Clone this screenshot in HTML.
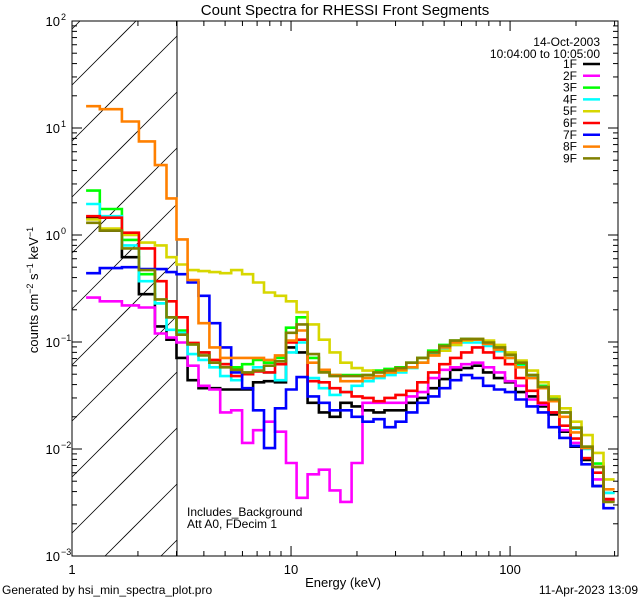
<!DOCTYPE html>
<html><head><meta charset="utf-8"><style>
html,body{margin:0;padding:0;background:#fff;overflow:hidden;width:640px;height:600px;}
svg{display:block;font-family:"Liberation Sans",sans-serif;}
</style></head><body>
<svg id="chart" width="640" height="600" viewBox="0 0 640 600" xmlns="http://www.w3.org/2000/svg">
<defs><clipPath id="plotclip"><rect x="72" y="21" width="546" height="535"/></clipPath></defs>
<text x="345" y="15" font-size="15" text-anchor="middle">Count Spectra for RHESSI Front Segments</text>
<g id="hatch"></g>
<g id="series" clip-path="url(#plotclip)"></g>
<g id="axes"></g>
<text transform="translate(38,290) rotate(-90)" font-size="13" text-anchor="middle">counts cm<tspan dy="-5" font-size="9">−2</tspan><tspan dy="5"> s</tspan><tspan dy="-5" font-size="9">−1</tspan><tspan dy="5"> keV</tspan><tspan dy="-5" font-size="9">−1</tspan></text>
<text x="343" y="587" font-size="13" text-anchor="middle">Energy (keV)</text>
<text x="600" y="46" font-size="12" text-anchor="end">14-Oct-2003</text>
<text x="600" y="58" font-size="12" text-anchor="end">10:04:00 to 10:05:00</text>
<g id="legend"></g>
<text x="187" y="516" font-size="12">Includes_Background</text>
<text x="187" y="528" font-size="12">Att A0, FDecim 1</text>
<text x="2" y="594" font-size="12">Generated by hsi_min_spectra_plot.pro</text>
<text x="638" y="594" font-size="12" text-anchor="end">11-Apr-2023 13:09</text>
</svg>
<script>
const energyEdges=[1.16,1.34,1.69,2.02,2.39,2.7,3.00,3.37,3.78,4.24,4.75,5.33,5.98,6.71,7.53,8.45,9.48,10.6,11.9,13.4,15.0,16.8,18.9,21.2,23.8,26.7,30.0,33.6,37.7,42.3,47.5,53.3,59.8,67.1,75.3,84.5,94.8,106,119,134,150,168,189,212,238,267,300];
const seriesNames=["1F","2F","3F","4F","5F","6F","7F","8F","9F"];
const seriesColors=["#000000","#ff00ff","#00ff00","#00ffff","#d7d700","#ff0000","#0000ff","#ff8000","#808000"];
const v1F=[1.45,1.1,0.62,0.28,0.14,0.105,0.071,0.044,0.037,0.037,0.036,0.036,0.036,0.042,0.043,0.042,0.089,0.080,0.027,0.022,0.020,0.027,0.025,0.023,0.022,0.023,0.023,0.027,0.030,0.037,0.045,0.055,0.057,0.060,0.052,0.046,0.042,0.034,0.031,0.025,0.021,0.0145,0.0105,0.0079,0.0045,0.0033];
const v2F=[0.26,0.24,0.22,0.21,0.12,0.11,0.099,0.060,0.039,0.036,0.022,0.023,0.0114,0.015,0.018,0.0145,0.0074,0.0035,0.0058,0.0064,0.0041,0.0032,0.0074,0.027,0.027,0.027,0.027,0.031,0.034,0.046,0.055,0.058,0.062,0.064,0.058,0.052,0.043,0.039,0.029,0.026,0.022,0.015,0.0114,0.0082,0.0052,0.0033];
const v3F=[2.6,1.75,0.9,0.43,0.23,0.17,0.128,0.095,0.080,0.064,0.062,0.058,0.062,0.068,0.064,0.071,0.136,0.17,0.071,0.054,0.049,0.049,0.049,0.049,0.054,0.056,0.058,0.064,0.071,0.083,0.094,0.103,0.107,0.105,0.099,0.089,0.076,0.062,0.049,0.039,0.030,0.022,0.0158,0.0105,0.0073,0.0039];
const v4F=[1.95,1.5,0.8,0.37,0.23,0.13,0.122,0.077,0.068,0.058,0.048,0.044,0.052,0.058,0.052,0.044,0.080,0.099,0.046,0.037,0.032,0.034,0.039,0.043,0.046,0.049,0.052,0.057,0.064,0.077,0.087,0.094,0.099,0.099,0.092,0.082,0.071,0.059,0.047,0.038,0.029,0.022,0.0155,0.0100,0.0068,0.0039];
const v5F=[1.4,1.15,1.0,0.85,0.8,0.62,0.53,0.47,0.46,0.45,0.44,0.47,0.43,0.36,0.29,0.27,0.24,0.19,0.146,0.105,0.080,0.064,0.057,0.054,0.052,0.052,0.054,0.058,0.064,0.075,0.083,0.094,0.103,0.107,0.103,0.094,0.080,0.067,0.054,0.042,0.031,0.024,0.018,0.0135,0.0092,0.0052];
const v6F=[1.5,1.45,1.05,0.75,0.37,0.24,0.17,0.098,0.080,0.068,0.062,0.048,0.050,0.053,0.052,0.062,0.099,0.105,0.043,0.042,0.037,0.034,0.031,0.030,0.028,0.030,0.032,0.035,0.042,0.052,0.062,0.071,0.080,0.089,0.080,0.071,0.062,0.046,0.035,0.027,0.022,0.0165,0.0125,0.0082,0.0060,0.0034];
const v7F=[0.44,0.49,0.50,0.48,0.48,0.45,0.43,0.36,0.27,0.15,0.089,0.052,0.037,0.023,0.0102,0.024,0.036,0.047,0.031,0.027,0.023,0.023,0.020,0.018,0.019,0.016,0.018,0.022,0.027,0.031,0.037,0.044,0.049,0.046,0.039,0.036,0.034,0.029,0.025,0.022,0.016,0.0127,0.0107,0.0072,0.0045,0.0028];
const v8F=[16,15,11.5,7.5,4.5,2.2,0.91,0.38,0.15,0.089,0.071,0.071,0.071,0.071,0.068,0.075,0.103,0.128,0.064,0.055,0.049,0.043,0.043,0.046,0.048,0.052,0.055,0.058,0.064,0.075,0.089,0.099,0.105,0.105,0.096,0.085,0.071,0.058,0.046,0.037,0.028,0.020,0.0143,0.0102,0.0068,0.0042];
const v9F=[1.3,1.1,0.75,0.47,0.25,0.17,0.117,0.095,0.075,0.064,0.058,0.055,0.052,0.054,0.060,0.066,0.122,0.146,0.077,0.052,0.048,0.048,0.048,0.049,0.052,0.054,0.057,0.064,0.071,0.080,0.092,0.103,0.107,0.107,0.099,0.089,0.076,0.064,0.049,0.038,0.029,0.022,0.0158,0.0105,0.0068,0.0032];
const seriesValues=[v1F,v2F,v3F,v4F,v5F,v6F,v7F,v8F,v9F];
const xTickValues=[1,10,100];
const xTickLabels=["1","10","100"];
const yTickExponents=[-3,-2,-1,0,1,2];

const NS="http://www.w3.org/2000/svg";
const L=72,R=618,T=21,B=556,XMIN=1,XMAX=311,YMIN=-3,YMAX=2,HX=177;
function xs(e){return L+(Math.log10(e)-Math.log10(XMIN))/(Math.log10(XMAX)-Math.log10(XMIN))*(R-L);}
function ys(v){return B-(Math.log10(v)-YMIN)/(YMAX-YMIN)*(B-T);}
function mk(tag,attrs,parent){const el=document.createElementNS(NS,tag);for(const k in attrs)el.setAttribute(k,attrs[k]);parent.appendChild(el);return el;}

// hatch: lines x+y=c clipped manually to rect [L,HX]x[T,B]
const hatch=document.getElementById('hatch');
for(let c=L+T+8;c<HX+B;c+=56){
  let x1=Math.max(L,c-B), x2=Math.min(HX,c-T);
  if(x2<=x1)continue;
  const ln=mk('line',{x1:x1,y1:c-x1,x2:x2,y2:c-x2,stroke:'#000','stroke-width':0.8},hatch);
  
  
}
const vline=mk('line',{x1:HX,y1:T,x2:HX,y2:B,stroke:'#000','stroke-width':1},hatch);



const sg=document.getElementById('series');
seriesValues.forEach((vals,si)=>{
  let d='';
  vals.forEach((v,i)=>{
    const x0=xs(energyEdges[i]),x1=xs(energyEdges[i+1]),y=ys(v);
    d+=(i===0?'M':'L')+x0.toFixed(1)+','+y.toFixed(1)+'L'+x1.toFixed(1)+','+y.toFixed(1);
  });
  const p=mk('path',{d:d,fill:'none',stroke:seriesColors[si],'stroke-width':2.6,'stroke-linejoin':'miter'},sg);
  
  
});

const ax=document.getElementById('axes');
const frame=mk('rect',{x:L,y:T,width:R-L,height:B-T,fill:'none',stroke:'#000','stroke-width':1},ax);


for(let dec=0;dec<3;dec++){
  for(let m=1;m<10;m++){
    const e=Math.pow(10,dec)*m; if(e>XMAX)break;
    const x=xs(e), len=m===1?10:5;
    const t1=mk('line',{x1:x,y1:B,x2:x,y2:B-len,stroke:'#000'},ax);
    
    
    const t2=mk('line',{x1:x,y1:T,x2:x,y2:T+len,stroke:'#000'},ax);
    
    
  }
}
xTickValues.forEach((e,i)=>{
  const t=mk('text',{x:xs(e),y:574,'font-size':13,'text-anchor':'middle'},ax);
  t.textContent=xTickLabels[i];
  
  
});
yTickExponents.forEach(ex=>{
  for(let m=1;m<10;m++){
    if(ex===YMAX&&m>1)break;
    const y=ys(m*Math.pow(10,ex)), len=m===1?10:5;
    const t1=mk('line',{x1:L,y1:y,x2:L+len,y2:y,stroke:'#000'},ax);
    
    
    const t2=mk('line',{x1:R,y1:y,x2:R-len,y2:y,stroke:'#000'},ax);
    
    
  }
  const y=ys(Math.pow(10,ex));
  const t=mk('text',{x:60,y:y+5,'font-size':13,'text-anchor':'end'},ax);
  t.textContent='10';
  
  
  const s=mk('text',{x:61,y:y-1,'font-size':9},ax);
  s.textContent=ex<0?'−'+(-ex):String(ex);
  
  
});

const lg=document.getElementById('legend');
seriesNames.forEach((n,i)=>{
  const y=64+i*11.8;
  const t=mk('text',{x:577,y:y+4,'font-size':12,'text-anchor':'end'},lg);
  t.textContent=n;
  
  
  const l=mk('line',{x1:583,y1:y,x2:600,y2:y,stroke:seriesColors[i],'stroke-width':2.5},lg);
  
  
});
</script>
</body></html>
